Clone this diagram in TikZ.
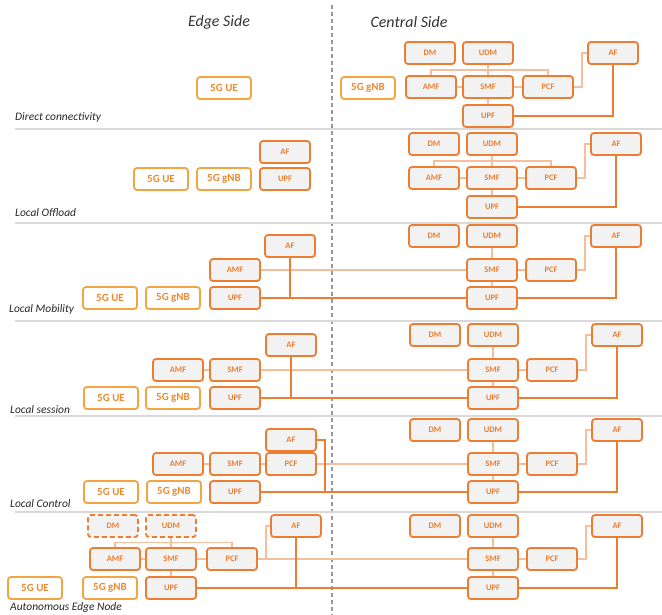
\documentclass[tikz,border=0pt]{standalone}
\usepackage{fontspec}
\setmainfont{Carlito}
\usetikzlibrary{calc}
\definecolor{nforange}{HTML}{ED7D31}
\definecolor{nflight}{HTML}{F6BE9C}
\definecolor{nffill}{HTML}{F2F2F2}
\definecolor{ranorange}{HTML}{F2A541}
\definecolor{rantext}{HTML}{EC8A2C}
\tikzset{
	nf/.style={draw=nforange,line width=1.8bp,rounded corners=3bp,fill=nffill,minimum width=50bp,minimum height=22bp,inner sep=0pt,text=nforange,font=\bfseries\fontsize{8.5}{9}\selectfont},%
	vnf/.style={nf,dash pattern=on 5bp off 3bp},%
	ran/.style={draw=ranorange,line width=1.8bp,rounded corners=3bp,fill=white,minimum width=54bp,minimum height=22bp,inner sep=0pt,text=rantext,font=\bfseries\fontsize{11}{12}\selectfont},%
	ctrl/.style={nflight,line width=1.2bp},%
	user/.style={nforange,line width=2.2bp},%
	rowline/.style={black!15,line width=1.5bp},%
	sideline/.style={black!40,line width=1.8bp,dash pattern=on 4bp off 3bp},%
	rowlabel/.style={anchor=west,inner sep=0pt,text=black!85,font=\itshape\fontsize{11.5}{13}\selectfont},%
	sidetitle/.style={inner sep=0pt,text=black!80,font=\itshape\fontsize{16}{18}\selectfont},%
}
\def\ctrlgap{8}

\begin{document}
\begin{tikzpicture}[x=1bp,y=-1bp]
	\useasboundingbox (0,0) rectangle (662,615);
	\draw[sideline] (332,5) -- (332,615);
	\draw[rowline] (15,129) -- (662,129);
	\draw[rowline] (15,223) -- (662,223);
	\draw[rowline] (15,321) -- (662,321);
	\draw[rowline] (15,416) -- (662,416);
	\draw[rowline] (15,512) -- (662,512);
	\node[sidetitle] (edge) at (219,22) {Edge Side};
	\node[sidetitle] (central) at (409,22) {Central Side};

	\node[rowlabel] (l1) at (15,117) {Direct connectivity};
	\node[ran] (ue1) at (224,88) {5G UE};
	\node[ran] (gnb1) at (368,88) {5G gNB};
	\node[nf] (c1dm) at (430,53) {DM};
	\node[nf] (c1udm) at (488,53) {UDM};
	\node[nf] (c1af) at (613,53) {AF};
	\node[nf] (c1amf) at (431,87) {AMF};
	\node[nf] (c1smf) at (488,87) {SMF};
	\node[nf] (c1pcf) at (548,87) {PCF};
	\node[nf] (c1upf) at (488,116) {UPF};
	\coordinate (b1) at ($(c1udm.south)!.5!(c1smf.north)$);
	\draw[ctrl] (c1udm) -- (c1smf);
	\draw[ctrl] (c1amf.north) |- (b1) -| (c1pcf.north);
	\draw[ctrl] (c1amf) -- (c1smf) -- (c1pcf);
	\draw[ctrl] (c1smf) -- (c1upf);
	\draw[ctrl] (c1pcf.east) -- ++(\ctrlgap,0) |- (c1af.west);
	\draw[user] (c1upf.east) -| (c1af.south);

	\node[rowlabel] (l2) at (15,213) {Local Offload};
	\node[ran] (ue2) at (161,179) {5G UE};
	\node[ran] (gnb2) at (224,179) {5G gNB};
	\node[nf] (e2af) at (285,152) {AF};
	\node[nf] (e2upf) at (285,179) {UPF};
	\node[nf] (c2dm) at (434,144) {DM};
	\node[nf] (c2udm) at (492,144) {UDM};
	\node[nf] (c2af) at (616,144) {AF};
	\node[nf] (c2amf) at (434,178) {AMF};
	\node[nf] (c2smf) at (492,178) {SMF};
	\node[nf] (c2pcf) at (551,178) {PCF};
	\node[nf] (c2upf) at (492,207) {UPF};
	\coordinate (b2) at ($(c2udm.south)!.5!(c2smf.north)$);
	\draw[ctrl] (c2udm) -- (c2smf);
	\draw[ctrl] (c2amf.north) |- (b2) -| (c2pcf.north);
	\draw[ctrl] (c2amf) -- (c2smf) -- (c2pcf);
	\draw[ctrl] (c2smf) -- (c2upf);
	\draw[ctrl] (c2pcf.east) -- ++(\ctrlgap,0) |- (c2af.west);
	\draw[user] (c2upf.east) -| (c2af.south);

	\node[rowlabel] (l3) at (9,309) {Local Mobility};
	\node[ran] (ue3) at (110,298) {5G UE};
	\node[ran] (gnb3) at (173,298) {5G gNB};
	\node[nf] (e3af) at (290,246) {AF};
	\node[nf] (e3amf) at (235,270) {AMF};
	\node[nf] (e3upf) at (235,298) {UPF};
	\node[nf] (c3dm) at (434,236) {DM};
	\node[nf] (c3udm) at (492,236) {UDM};
	\node[nf] (c3af) at (616,236) {AF};
	\node[nf] (c3smf) at (492,270) {SMF};
	\node[nf] (c3pcf) at (551,270) {PCF};
	\node[nf] (c3upf) at (492,298) {UPF};
	\draw[ctrl] (e3amf) -- (c3smf);
	\draw[ctrl] (c3udm) -- (c3smf);
	\draw[ctrl] (c3smf) -- (c3pcf);
	\draw[ctrl] (c3smf) -- (c3upf);
	\draw[ctrl] (c3pcf.east) -- ++(\ctrlgap,0) |- (c3af.west);
	\draw[user] (e3upf) -- (c3upf);
	\draw[user] (e3af.south) -- (e3af.south |- e3upf.east);
	\draw[user] (c3upf.east) -| (c3af.south);

	\node[rowlabel] (l4) at (10,410) {Local session};
	\node[ran] (ue4) at (111,398) {5G UE};
	\node[ran] (gnb4) at (173,398) {5G gNB};
	\node[nf] (e4af) at (291,345) {AF};
	\node[nf] (e4amf) at (178,370) {AMF};
	\node[nf] (e4smf) at (235,370) {SMF};
	\node[nf] (e4upf) at (235,398) {UPF};
	\node[nf] (c4dm) at (435,335) {DM};
	\node[nf] (c4udm) at (493,335) {UDM};
	\node[nf] (c4af) at (617,335) {AF};
	\node[nf] (c4smf) at (493,370) {SMF};
	\node[nf] (c4pcf) at (552,370) {PCF};
	\node[nf] (c4upf) at (493,398) {UPF};
	\draw[ctrl] (e4amf) -- (e4smf) -- (c4smf);
	\draw[ctrl] (c4udm) -- (c4smf);
	\draw[ctrl] (c4smf) -- (c4pcf);
	\draw[ctrl] (c4smf) -- (c4upf);
	\draw[ctrl] (c4pcf.east) -- ++(\ctrlgap,0) |- (c4af.west);
	\draw[user] (e4upf) -- (c4upf);
	\draw[user] (e4af.south) -- (e4af.south |- e4upf.east);
	\draw[user] (c4upf.east) -| (c4af.south);

	\node[rowlabel] (l5) at (10,504) {Local Control};
	\node[ran] (ue5) at (111,492) {5G UE};
	\node[ran] (gnb5) at (174,492) {5G gNB};
	\node[nf] (e5af) at (291,440) {AF};
	\node[nf] (e5amf) at (178,464) {AMF};
	\node[nf] (e5smf) at (235,464) {SMF};
	\node[nf] (e5pcf) at (291,464) {PCF};
	\node[nf] (e5upf) at (235,492) {UPF};
	\node[nf] (c5dm) at (435,430) {DM};
	\node[nf] (c5udm) at (493,430) {UDM};
	\node[nf] (c5af) at (617,430) {AF};
	\node[nf] (c5smf) at (493,464) {SMF};
	\node[nf] (c5pcf) at (552,464) {PCF};
	\node[nf] (c5upf) at (493,492) {UPF};
	\draw[ctrl] (e5amf) -- (e5smf) -- (e5pcf) -- (c5smf);
	\draw[ctrl] (c5udm) -- (c5smf);
	\draw[ctrl] (c5smf) -- (c5pcf);
	\draw[ctrl] (c5smf) -- (c5upf);
	\draw[ctrl] (c5pcf.east) -- ++(\ctrlgap,0) |- (c5af.west);
	\draw[user] (e5upf) -- (c5upf);
	\draw[user] (e5af.east) -- ++(\ctrlgap,0) coordinate (k5) -- (k5 |- e5upf.east);
	\draw[user] (c5upf.east) -| (c5af.south);

	\node[rowlabel] (l6) at (10,607) {Autonomous Edge Node};
	\node[ran] (ue6) at (35,588) {5G UE};
	\node[ran] (gnb6) at (110,588) {5G gNB};
	\node[vnf] (e6dm) at (113,526) {DM};
	\node[vnf] (e6udm) at (171,526) {UDM};
	\node[nf] (e6af) at (296,526) {AF};
	\node[nf] (e6amf) at (115,559) {AMF};
	\node[nf] (e6smf) at (171,559) {SMF};
	\node[nf] (e6pcf) at (232,559) {PCF};
	\node[nf] (e6upf) at (171,588) {UPF};
	\node[nf] (c6dm) at (435,526) {DM};
	\node[nf] (c6udm) at (493,526) {UDM};
	\node[nf] (c6af) at (617,526) {AF};
	\node[nf] (c6smf) at (493,559) {SMF};
	\node[nf] (c6pcf) at (552,559) {PCF};
	\node[nf] (c6upf) at (493,588) {UPF};
	\coordinate (b6) at ($(e6udm.south)!.5!(e6smf.north)$);
	\draw[ctrl] (e6udm) -- (e6smf);
	\draw[ctrl] (e6amf.north) |- (b6) -| (e6pcf.north);
	\draw[ctrl] (e6amf) -- (e6smf) -- (e6pcf) -- (c6smf);
	\draw[ctrl] (e6smf) -- (e6upf);
	\draw[ctrl] (e6pcf.east) -- ++(\ctrlgap,0) |- (e6af.west);
	\draw[ctrl] (c6udm) -- (c6smf);
	\draw[ctrl] (c6smf) -- (c6pcf);
	\draw[ctrl] (c6smf) -- (c6upf);
	\draw[ctrl] (c6pcf.east) -- ++(\ctrlgap,0) |- (c6af.west);
	\draw[user] (e6upf) -- (c6upf);
	\draw[user] (e6af.south) -- (e6af.south |- e6upf.east);
	\draw[user] (c6upf.east) -| (c6af.south);
\end{tikzpicture}
\end{document}
